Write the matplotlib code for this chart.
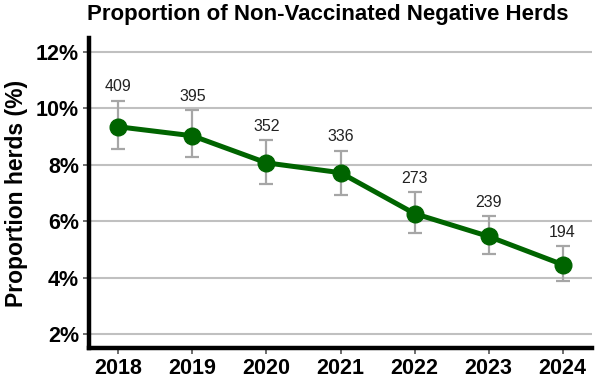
import matplotlib.pyplot as plt
from matplotlib.ticker import FuncFormatter

years = [2018, 2019, 2020, 2021, 2022, 2023, 2024]
proportion = [9.35, 9.03, 8.07, 7.72, 6.27, 5.46, 4.46]
ci_upper = [10.28, 9.95, 8.88, 8.50, 7.02, 6.19, 5.11]
ci_lower = [8.57, 8.26, 7.33, 6.94, 5.59, 4.85, 3.87]
n_herds = [409, 395, 352, 336, 273, 239, 194]

plt.rcParams['font.family'] = ['Liberation Sans', 'DejaVu Sans']


def main():
    fig = plt.figure(figsize=(6, 3.82), dpi=100)
    ax = fig.add_axes([0.148, 0.089, 0.839, 0.8115])

    yerr = [[p - lo for p, lo in zip(proportion, ci_lower)],
            [hi - p for p, hi in zip(proportion, ci_upper)]]

    ax.errorbar(years, proportion, yerr=yerr, fmt='none', ecolor='#a6a6a6',
                elinewidth=1.6, capsize=5, capthick=1.6, zorder=2)
    ax.plot(years, proportion, color='#006400', linewidth=3.6, marker='o',
            markersize=12, zorder=3)

    # sample size labels above the error bars
    for x, hi, n in zip(years, ci_upper, n_herds):
        ax.annotate(str(n), (x, hi), xytext=(0, 4.5), textcoords='offset points',
                    ha='center', va='bottom', fontsize=11.5, color='#222222')

    ax.set_xlim(2017.6, 2024.4)
    ax.set_ylim(1.5, 12.5)
    ax.set_xticks(years)
    ax.set_yticks([2, 4, 6, 8, 10, 12])
    ax.yaxis.set_major_formatter(FuncFormatter(lambda v, p: f'{v:.0f}%'))

    ax.grid(axis='y', color='#c0c0c0', linewidth=1.5, zorder=0)
    ax.set_axisbelow(True)

    for side in ['top', 'right']:
        ax.spines[side].set_visible(False)
    for side in ['left', 'bottom']:
        ax.spines[side].set_linewidth(3.2)
        ax.spines[side].set_color('black')

    ax.tick_params(axis='both', labelsize=15.5, width=1.2, length=4,
                   color='#555555', pad=3)
    for lbl in ax.get_xticklabels() + ax.get_yticklabels():
        lbl.set_fontweight('bold')

    ax.set_ylabel('Proportion herds (%)', fontsize=16.5, fontweight='bold',
                  labelpad=6)
    fig.suptitle('Proportion of Non-Vaccinated Negative Herds', x=0.547,
                 y=0.99, fontsize=16, fontweight='bold')

    plt.savefig('out.png', dpi=100)


if __name__ == '__main__':
    main()
